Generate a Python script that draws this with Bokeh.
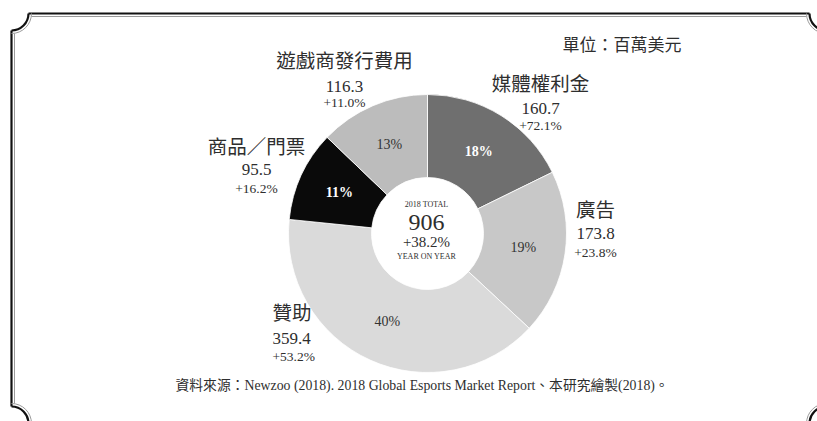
import math
from bokeh.plotting import figure
from bokeh.models import Range1d, ColumnDataSource
from bokeh.core.properties import value
from bokeh.embed import file_html
from bokeh.resources import INLINE

# ---- data ----
categories = ["媒體權利金", "廣告", "贊助", "商品／門票", "遊戲商發行費用"]
values = [160.7, 173.8, 359.4, 95.5, 116.3]
growth = ["+72.1%", "+23.8%", "+53.2%", "+16.2%", "+11.0%"]
shares = ["18%", "19%", "40%", "11%", "13%"]
total_label = "906"
total_growth = "+38.2%"
unit_label = "單位：百萬美元"
source_label = "資料來源：Newzoo (2018). 2018 Global Esports Market Report、本研究繪製(2018)。"

# ---- styles / layout ----
W, H = 817, 421
colors = ["#6f6f6f", "#c8c8c8", "#dadada", "#0a0a0a", "#bcbcbc"]
share_colors = ["#ffffff", "#333333", "#333333", "#ffffff", "#333333"]
share_styles = ["bold", "normal", "normal", "bold", "normal"]
cx, cy_px = 427, 233
R_OUT, R_IN = 139, 56
# label anchor positions (pixel x, name y, value y, growth y, align)
label_pos = [(540, 84, 108, 125, "center"),
             (595, 210, 233, 252, "center"),
             (272, 313, 338, 356, "left"),
             (256, 147, 169, 188, "center"),
             (344, 61, 86, 102, "center")]
SERIF = "Liberation Serif, Noto Sans CJK TC, serif"
TXT = "#2e2e2e"


def Y(py):
    return H - py


p = figure(width=W, height=H, output_backend="svg", toolbar_location=None,
           x_range=Range1d(0, W), y_range=Range1d(0, H), min_border=0)
p.axis.visible = False
p.grid.visible = False
p.outline_line_color = None
p.background_fill_color = "white"

# ---- frame (double line with concave corners) ----
def frame(off, color, width):
    l, t, r, b = 11 + off, 13 + off, 826 - off, 423 - off
    rad = 17
    p.line([l + rad, r - rad], [Y(t), Y(t)], line_color=color, line_width=width)
    p.line([l, l], [Y(t + rad), Y(b - rad)], line_color=color, line_width=width)
    p.line([r, r], [Y(t + rad), Y(b - rad)], line_color=color, line_width=width)
    p.arc(x=[11, 826, 11, 826], y=[Y(13), Y(13), Y(423), Y(423)],
          radius=rad + off,
          start_angle=[3 * math.pi / 2, math.pi, 0, math.pi / 2],
          end_angle=[2 * math.pi, 3 * math.pi / 2, math.pi / 2, math.pi],
          line_color=color, line_width=width)

frame(0, "#111111", 2.2)
frame(3, "#9a9a9a", 1.0)

# ---- donut ----
total = sum(values)
starts, ends, mids = [], [], []
cum = 0.0
for v in values:
    a0 = math.pi / 2 - 2 * math.pi * cum / total
    cum += v
    a1 = math.pi / 2 - 2 * math.pi * cum / total
    starts.append(a0)
    ends.append(a1)
    mids.append((a0 + a1) / 2)

src = ColumnDataSource(dict(start=starts, end=ends, color=colors))
p.annular_wedge(x=cx, y=Y(cy_px), inner_radius=R_IN, outer_radius=R_OUT,
                start_angle="start", end_angle="end", direction="clock",
                fill_color="color", line_color="white", line_width=0.8,
                source=src)

# share labels inside slices
r_lab = 97
for m, s, c, st in zip(mids, shares, share_colors, share_styles):
    p.text(x=[cx + r_lab * math.cos(m)], y=[Y(cy_px) + r_lab * math.sin(m)],
           text=[s], text_align="center", text_baseline="middle",
           text_font=value(SERIF), text_font_size="14px", text_color=c,
           text_font_style=st)

# outer category labels
for (lx, ny, vy, gy, al), cat, v, g in zip(label_pos, categories, values, growth):
    p.text(x=[lx], y=[Y(ny)], text=[cat], text_align=al, text_baseline="middle",
           text_font=value(SERIF), text_font_size="19.5px", text_color=TXT)
    p.text(x=[lx], y=[Y(vy)], text=[f"{v:.1f}"], text_align=al,
           text_baseline="middle", text_font=value(SERIF),
           text_font_size="17px", text_color=TXT)
    p.text(x=[lx], y=[Y(gy)], text=[g], text_align=al,
           text_baseline="middle", text_font=value(SERIF),
           text_font_size="13.5px", text_color=TXT)

# center texts
center_texts = [("2018 TOTAL", 204, "8px"), (total_label, 222, "24px"),
                (total_growth, 241, "15px"), ("YEAR ON YEAR", 256, "8px")]
for t, ty, fs in center_texts:
    p.text(x=[cx - 1], y=[Y(ty)], text=[t], text_align="center",
           text_baseline="middle", text_font=value(SERIF),
           text_font_size=fs, text_color=TXT)

# unit and source
p.text(x=[562], y=[Y(45)], text=[unit_label], text_align="left",
       text_baseline="middle", text_font=value(SERIF), text_font_size="17px",
       text_color=TXT)
p.text(x=[175], y=[Y(385)], text=[source_label], text_align="left",
       text_baseline="middle", text_font=value(SERIF), text_font_size="13.8px",
       text_color=TXT)

open("out.html", "w").write(file_html(p, INLINE))
